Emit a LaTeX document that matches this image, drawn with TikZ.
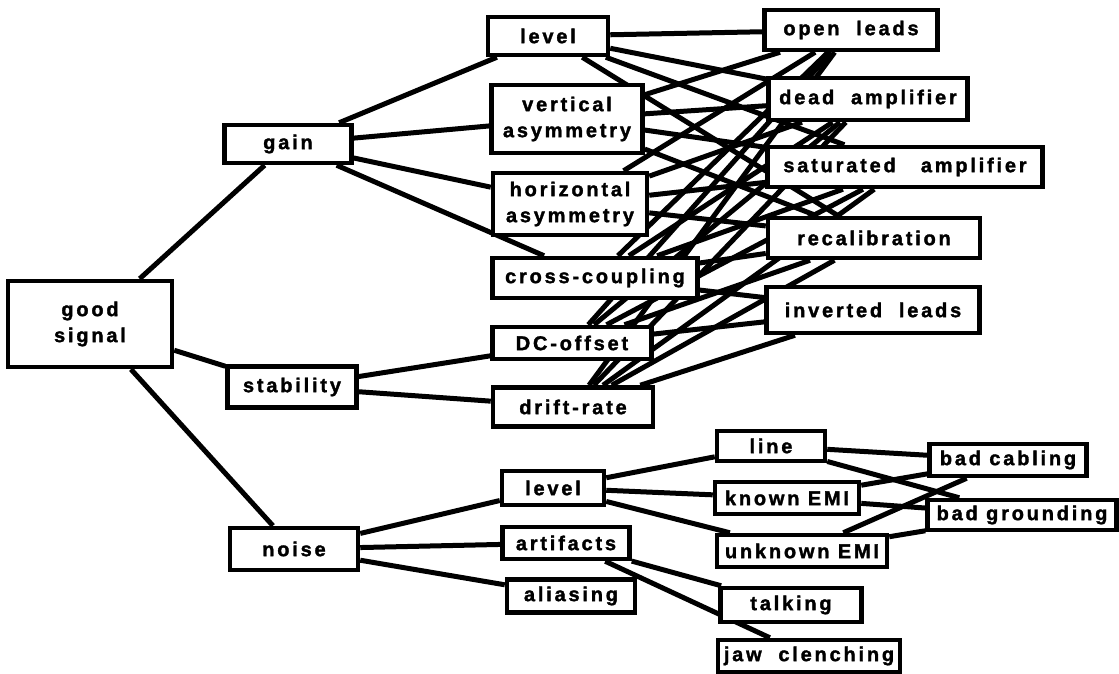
\documentclass[tikz,border=0pt]{standalone}
\usepackage{fontspec}
\newfontfamily\boxfont{Liberation Sans}[UprightFont={* Bold}, FakeBold=1.6, LetterSpace=14]
\usetikzlibrary{graphs,backgrounds}

\tikzset{
  box/.style={draw, line width=4.5pt, fill=white, inner sep=0pt, align=center,
    font=\boxfont\fontsize{20}{26}\selectfont},
  link/.style={line width=5pt}
}

\begin{document}
\begin{tikzpicture}[x=1pt, y=-1pt]
  \useasboundingbox (0,0) rectangle (1119,674);
    \node[box, minimum width=164, minimum height=86] (gs) at (90,324) {good\\signal};
    \node[box, minimum width=127, minimum height=38] (gain) at (288,144) {gain};
    \node[box, minimum width=129, minimum height=41] (stab) at (292,387) {stability};
    \node[box, minimum width=128, minimum height=42] (noise) at (294,549) {noise};
    \node[box, minimum width=120, minimum height=38] (lev) at (548,36) {level};
    \node[box, minimum width=151, minimum height=68] (vasym) at (567,119) {vertical\\asymmetry};
    \node[box, minimum width=154, minimum height=62] (hasym) at (570,204) {horizontal\\asymmetry};
    \node[box, minimum width=205, minimum height=40] (cross) at (595,278) {cross-coupling};
    \node[box, minimum width=159, minimum height=32] (dcoff) at (572,343) {DC-offset};
    \node[box, minimum width=160, minimum height=39] (drift) at (573,407) {drift-rate};
    \node[box, minimum width=173, minimum height=40] (open) at (851,30) {open~~leads};
    \node[box, minimum width=199, minimum height=42] (dead) at (868,99) {dead~~amplifier};
    \node[box, minimum width=275, minimum height=40] (sat) at (905,167) {saturated~~~amplifier};
    \node[box, minimum width=212, minimum height=40] (recal) at (874,238) {recalibration};
    \node[box, minimum width=213, minimum height=46] (inv) at (873,310) {inverted~~leads};
    \node[box, minimum width=102, minimum height=34] (nlev) at (553,488) {level};
    \node[box, minimum width=127, minimum height=32] (artif) at (566,543) {artifacts};
    \node[box, minimum width=128, minimum height=33] (alias) at (571,596) {aliasing};
    \node[box, minimum width=108, minimum height=30] (linen) at (771,446) {line};
    \node[box, minimum width=144, minimum height=32] (kemi) at (787,498) {known~EMI};
    \node[box, minimum width=170, minimum height=32] (uemi) at (802,551) {unknown~EMI};
    \node[box, minimum width=141, minimum height=34] (talk) at (791,605) {talking};
    \node[box, minimum width=182, minimum height=32] (jaw) at (809,656) {jaw~~clenching};
    \node[box, minimum width=157, minimum height=32] (cabl) at (1008,460) {bad~cabling};
    \node[box, minimum width=189, minimum height=30] (grnd) at (1022,515) {bad~grounding};
  \begin{scope}[on background layer]
  \graph[use existing nodes, edges=link] {
    gs -- {gain, stab, noise};
    gain -- {lev, vasym, hasym, cross};
    stab -- {dcoff, drift};
    {lev, vasym, hasym} --[complete bipartite] {open, dead, sat, recal};
    {cross, dcoff, drift} --[complete bipartite] {open, dead, sat, recal, inv};
    noise -- {nlev, artif, alias};
    nlev -- {linen, kemi, uemi};
    {linen, kemi, uemi} --[complete bipartite] {cabl, grnd};
    artif -- {talk, jaw};
  };
  \end{scope}
\end{tikzpicture}
\end{document}
